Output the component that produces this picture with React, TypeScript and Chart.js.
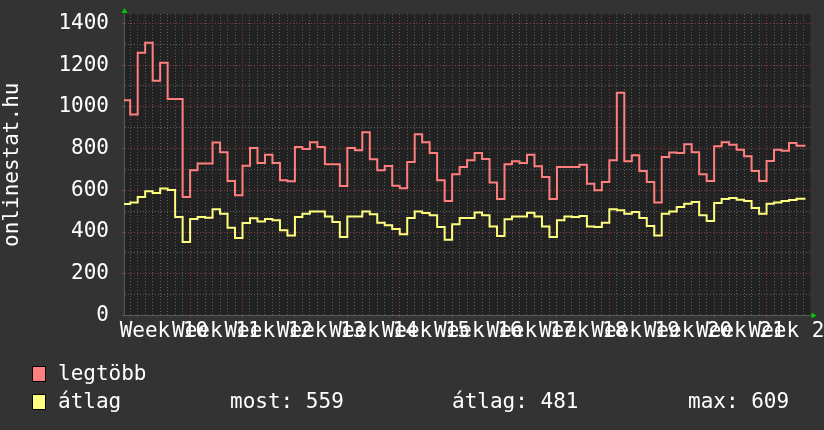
import React, { useEffect, useRef } from "react";
import { Chart, registerables } from "chart.js";

Chart.register(...registerables);

// ---- data (daily values, first value = day -2 relative to start of Week 10) ----
const startDay = -2;
const viewStart = -1.83;
const viewEnd = 89.87;
const dataEnd = 89.2;
const yMax = 1445;

const weekLabels = [
  "Week 10", "Week 11", "Week 12", "Week 13", "Week 14", "Week 15", "Week 16",
  "Week 17", "Week 18", "Week 19", "Week 20", "Week 21", "Week 22",
];

const yTickLabels = [0, 200, 400, 600, 800, 1000, 1200, 1400];

const legtobb = [
  1032, 963, 1259, 1307, 1125, 1211, 1038, 1038, 568, 696, 728, 728, 829, 782,
  645, 576, 718, 803, 731, 770, 731, 648, 643, 808, 798, 830, 808, 725, 725, 621,
  803, 792, 878, 749, 696, 717, 622, 610, 736, 869, 830, 779, 648, 549, 677, 712,
  744, 779, 750, 638, 558, 725, 739, 731, 770, 715, 664, 558, 712, 712, 712, 722,
  632, 600, 640, 744, 1067, 739, 768, 693, 640, 542, 760, 781, 779, 821, 782, 677,
  645, 811, 830, 818, 794, 763, 693, 645, 741, 794, 789, 827, 813,
];

const atlag = [
  534, 541, 568, 595, 587, 609, 602, 472, 352, 462, 472, 469, 509, 488, 421, 371,
  443, 466, 450, 462, 456, 408, 384, 472, 488, 499, 499, 475, 448, 376, 475, 475,
  499, 485, 445, 432, 414, 389, 467, 499, 491, 480, 424, 363, 437, 467, 467, 494,
  480, 427, 381, 461, 475, 475, 493, 475, 427, 376, 456, 475, 472, 477, 427, 424,
  445, 509, 504, 488, 496, 467, 429, 384, 488, 499, 520, 536, 544, 480, 453, 539,
  558, 563, 555, 549, 515, 488, 536, 542, 549, 554, 559,
];

const legendStats = { most: 559, atlag: 481, max: 609 };

const RED = "#ff7f7f";
const YELLOW = "#ffff7f";
const MAJOR = "#8a3c3c";
const MINOR = "#5c5c5c";
const FONT = "DejaVu Sans Mono";

function toPoints(vals: number[]) {
  const pts = vals.map((v, i) => ({ x: startDay + i, y: v }));
  pts.push({ x: dataEnd, y: vals[vals.length - 1] });
  return pts;
}

const plotBg = {
  id: "plotBg",
  beforeDraw(chart: any) {
    const { ctx, chartArea: a } = chart;
    ctx.save();
    ctx.fillStyle = "#222222";
    ctx.fillRect(a.left, a.top, a.right - a.left, a.bottom - a.top);
    ctx.restore();
  },
};

const arrows = {
  id: "arrows",
  afterDraw(chart: any) {
    const { ctx, chartArea: a } = chart;
    ctx.save();
    ctx.fillStyle = "#00cc00";
    ctx.beginPath();
    ctx.moveTo(a.left + 0.5, a.top - 6);
    ctx.lineTo(a.left - 2.5, a.top - 1);
    ctx.lineTo(a.left + 3.5, a.top - 1);
    ctx.closePath();
    ctx.fill();
    ctx.beginPath();
    ctx.moveTo(a.right + 6, a.bottom);
    ctx.lineTo(a.right + 1, a.bottom - 3);
    ctx.lineTo(a.right + 1, a.bottom + 3);
    ctx.closePath();
    ctx.fill();
    ctx.restore();
  },
};

export default function App() {
  const ref = useRef<HTMLCanvasElement | null>(null);

  useEffect(() => {
    document.body.style.margin = "0";
    const canvas = ref.current;
    if (!canvas) return;
    const font = { family: FONT, size: 21 };
    const chart = new Chart(canvas, {
      type: "line",
      data: {
        datasets: [
          {
            label: "legtöbb",
            data: toPoints(legtobb),
            borderColor: RED,
            backgroundColor: RED,
            borderWidth: 2,
            pointRadius: 0,
            stepped: true,
            fill: false,
          },
          {
            label: "átlag",
            data: toPoints(atlag),
            borderColor: YELLOW,
            backgroundColor: YELLOW,
            borderWidth: 2,
            pointRadius: 0,
            stepped: true,
            fill: false,
          },
        ],
      },
      options: {
        responsive: false,
        animation: false,
        events: [],
        layout: { padding: { top: 14, left: 0, right: 13.5, bottom: 0 } },
        plugins: { legend: { display: false }, tooltip: { enabled: false } },
        scales: {
          x: {
            type: "linear",
            min: viewStart,
            max: viewEnd,
            afterBuildTicks: (s: any) => {
              const t: any[] = [];
              for (let v = -1.5; v <= 89.5; v += 0.5) t.push({ value: v });
              s.ticks = t;
            },
            afterFit: (s: any) => {
              s.height = 430 - 315.5;
              s.paddingLeft = 0;
              s.paddingRight = 0;
              s.paddingTop = 0;
              s.paddingBottom = 0;
            },
            ticks: {
              autoSkip: false,
              maxRotation: 0,
              minRotation: 0,
              color: "#ffffff",
              font,
              padding: 1,
              callback: (v: any) => {
                const w = (Number(v) - 3.5) / 7;
                return Number.isInteger(w) && weekLabels[w] ? weekLabels[w] : "";
              },
            },
            grid: {
              lineWidth: 1,
              drawTicks: true,
              tickLength: 2,
              color: (c: any) => {
                const v = c.tick ? c.tick.value : 0.5;
                if (!Number.isInteger(v)) return "rgba(0,0,0,0)";
                return v % 7 === 0 ? MAJOR : MINOR;
              },
              tickColor: (c: any) => {
                const v = c.tick ? c.tick.value : 0.5;
                return Number.isInteger(v) && v % 7 === 0 ? MAJOR : "rgba(0,0,0,0)";
              },
            },
            border: {
              color: "#5a5a5a",
              dash: (c: any) => (c.tick ? [1, 2] : []),
            },
          },
          y: {
            min: 0,
            max: yMax,
            afterBuildTicks: (s: any) => {
              const t: any[] = [];
              for (let v = 0; v <= 1400; v += 100) t.push({ value: v });
              s.ticks = t;
            },
            afterFit: (s: any) => {
              s.width = 124;
              s.paddingTop = 0;
              s.paddingBottom = 0;
              s.paddingLeft = 0;
              s.paddingRight = 0;
            },
            ticks: {
              autoSkip: false,
              color: "#ffffff",
              font,
              padding: 13,
              callback: (v: any) => (yTickLabels.includes(Number(v)) ? String(v) : ""),
            },
            grid: {
              lineWidth: 1,
              drawTicks: true,
              tickLength: 2,
              color: (c: any) => {
                const v = c.tick ? c.tick.value : 100;
                return v % 200 === 0 ? MAJOR : MINOR;
              },
              tickColor: (c: any) => {
                const v = c.tick ? c.tick.value : 100;
                return v % 200 === 0 ? MAJOR : "rgba(0,0,0,0)";
              },
            },
            border: {
              color: "#5a5a5a",
              dash: (c: any) => (c.tick ? [1, 2] : []),
            },
            title: {
              display: true,
              text: "onlinestat.hu",
              color: "#ffffff",
              font: { family: FONT, size: 21, lineHeight: 1.15 },
              padding: 0,
            },
          },
        },
      },
      plugins: [plotBg, arrows],
    } as any);
    return () => chart.destroy();
  }, []);

  const txt: React.CSSProperties = {
    position: "absolute",
    fontFamily: FONT,
    fontSize: 21,
    lineHeight: "21px",
    color: "#ffffff",
    whiteSpace: "pre",
  };
  const sq = (top: number, color: string): React.CSSProperties => ({
    position: "absolute",
    left: 32,
    top,
    width: 14,
    height: 16,
    background: color,
    border: "1px solid #000",
    boxSizing: "border-box",
  });

  return (
    <div
      style={{
        position: "absolute",
        left: 0,
        top: 0,
        width: 824,
        height: 430,
        background: "#333333",
        overflow: "hidden",
      }}
    >
      <canvas ref={ref} width={824} height={430} style={{ position: "absolute", left: 0, top: 0 }} />
      <div style={sq(366, RED)} />
      <div style={{ ...txt, left: 58, top: 363 }}>legtöbb</div>
      <div style={sq(394, YELLOW)} />
      <div style={{ ...txt, left: 58, top: 391 }}>átlag</div>
      <div style={{ ...txt, left: 230, top: 391 }}>{`most: ${legendStats.most}`}</div>
      <div style={{ ...txt, left: 452, top: 391 }}>{`átlag: ${legendStats.atlag}`}</div>
      <div style={{ ...txt, left: 688, top: 391 }}>{`max: ${legendStats.max}`}</div>
    </div>
  );
}
